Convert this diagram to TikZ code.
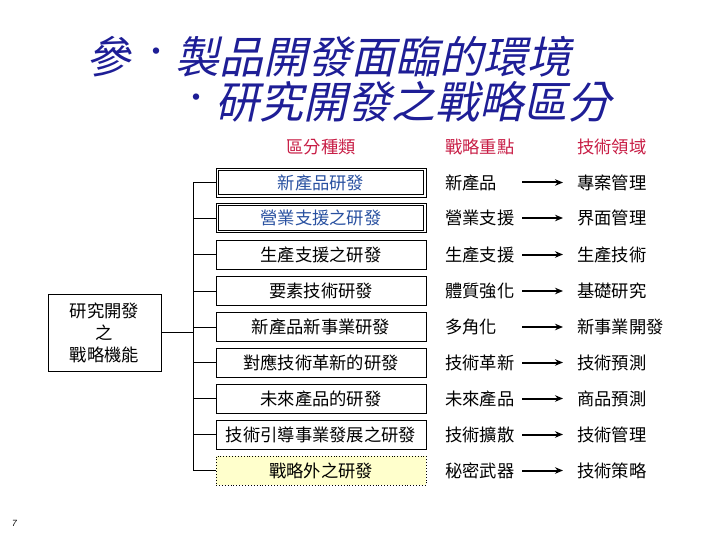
\documentclass[tikz,border=0pt]{standalone}
\usepackage{fontspec}
\setmainfont{Noto Sans CJK TC}
\newfontfamily\titlefont[FakeSlant=0.22]{Noto Sans CJK TC}
\newfontfamily\numfont[FakeSlant=0.2]{Liberation Sans}
\usetikzlibrary{arrows.meta}
\definecolor{titleblue}{RGB}{30,30,150}
\definecolor{headred}{RGB}{200,30,70}
\definecolor{boxblue}{RGB}{40,80,160}
\definecolor{paleyellow}{RGB}{255,255,204}
\tikzset{
  body/.style={font=\fontsize{17.3}{20}\selectfont},
  kindbox/.style={body, draw, line width=0.9pt, minimum width=210pt, minimum height=29pt, inner sep=0pt},
  dblbox/.style={kindbox, text=boxblue},
  yelbox/.style={kindbox, dotted, fill=paleyellow},
  label/.style={body, anchor=west, inner sep=0pt},
  head/.style={body, text=headred, inner sep=0pt},
  titletext/.style={font=\titlefont\fontsize{44}{48}\selectfont, text=titleblue, inner sep=0pt},
  link/.style={line width=0.9pt},
  inner/.style={line width=0.9pt},
  arr/.style={line width=2pt, -{Stealth[length=8pt,width=6.5pt]}, shorten >=14pt},
}
\begin{document}
\begin{tikzpicture}[x=1pt,y=-1pt]
\useasboundingbox (0,0) rectangle (720,540);
% title
\node[titletext] (t1a) at (108,57) {參};
\node[titletext, font=\fontsize{30}{30}\selectfont] (b1) at (156,55) {•};
\node[titletext, anchor=west] (t1b) at (175,57) {製品開發面臨的環境};
\node[titletext, font=\fontsize{30}{30}\selectfont] (b2) at (196,101) {•};
\node[titletext, anchor=west] (t2) at (215,102) {研究開發之戰略區分};
% headers
\node[head] (h1) at (321,147) {區分種類};
\node[head, anchor=west] (h2) at (445,147) {戰略重點};
\node[head, anchor=west] (h3) at (577,147) {技術領域};
% left box
\node[body, draw, line width=0.9pt, minimum width=113pt, minimum height=77pt, align=center, inner sep=0pt,
      font=\fontsize{17.3}{22}\selectfont] (L) at (104.5,332.5) {研究開發\\之\\戰略機能};
% kind boxes
\node[dblbox] (k1) at (321,182.5) {新產品研發};
\node[dblbox] (k2) at (321,218) {營業支援之研發};
\foreach \k in {k1,k2} {
  \draw[inner] ([shift={(2.6,2.6)}]\k.north west) rectangle ([shift={(-2.6,-2.6)}]\k.south east);
}
\node[kindbox] (k3) at (321,254.5) {生產支援之研發};
\node[kindbox] (k4) at (321,291) {要素技術研發};
\node[kindbox] (k5) at (321,327) {新產品新事業研發};
\node[kindbox] (k6) at (321,362.5) {對應技術革新的研發};
\node[kindbox] (k7) at (321,398.5) {未來產品的研發};
\node[kindbox] (k8) at (321,434.5) {技術引導事業發展之研發};
\node[yelbox] (k9) at (321,470.5) {戰略外之研發};
% trunk
\coordinate (tx) at (193,0);
\draw[link] (k1.west -| tx) -- (k9.west -| tx);
\foreach \i in {1,...,9} { \draw[link] (k\i.west) -- (k\i.west -| tx); }
\draw[link] (L.east) -- (L.east -| tx);
% middle and right labels
\node[label] (m1) at (445,182.5) {新產品};
\node[label] (m2) at (445,218) {營業支援};
\node[label] (m3) at (445,254.5) {生產支援};
\node[label] (m4) at (445,291) {體質強化};
\node[label] (m5) at (445,327) {多角化};
\node[label] (m6) at (445,362.5) {技術革新};
\node[label] (m7) at (445,398.5) {未來產品};
\node[label] (m8) at (445,434.5) {技術擴散};
\node[label] (m9) at (445,470.5) {秘密武器};
\node[label] (r1) at (577,182.5) {專案管理};
\node[label] (r2) at (577,218) {界面管理};
\node[label] (r3) at (577,254.5) {生產技術};
\node[label] (r4) at (577,291) {基礎研究};
\node[label] (r5) at (577,327) {新事業開發};
\node[label] (r6) at (577,362.5) {技術預測};
\node[label] (r7) at (577,398.5) {商品預測};
\node[label] (r8) at (577,434.5) {技術管理};
\node[label] (r9) at (577,470.5) {技術策略};
\foreach \i/\y in {1/182.5,2/218,3/254.5,4/291,5/327,6/362.5,7/398.5,8/434.5,9/470.5} {
  \coordinate (s\i) at (522,\y);
  \draw[arr] (s\i) -- (r\i.west);
}
% page number
\node[font=\numfont\fontsize{9}{9}\selectfont, inner sep=0pt] (pg) at (14,523) {7};
\end{tikzpicture}
\end{document}
